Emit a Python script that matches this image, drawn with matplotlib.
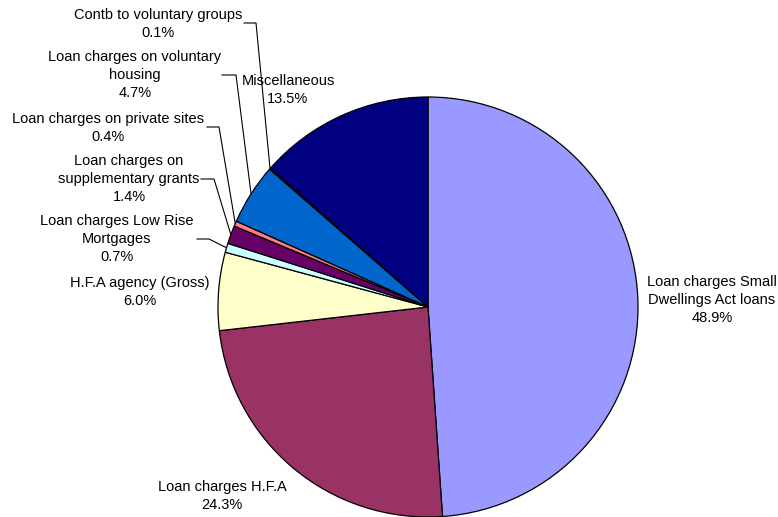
import numpy as np
import matplotlib
matplotlib.use("Agg")
import matplotlib.pyplot as plt

plt.rcParams["font.family"] = ["Liberation Sans", "DejaVu Sans"]

# Housing expenditure breakdown (per cent of total)
categories = [
    "Loan charges Small\nDwellings Act loans",
    "Loan charges H.F.A",
    "H.F.A agency (Gross)",
    "Loan charges Low Rise\nMortgages",
    "Loan charges on\nsupplementary grants",
    "Loan charges on private sites",
    "Loan charges on voluntary\nhousing",
    "Contb to voluntary groups",
    "Miscellaneous",
]
shares = [48.9, 24.3, 6.0, 0.7, 1.4, 0.4, 4.7, 0.1, 13.5]
colors = ["#9999FF", "#993366", "#FFFFCC", "#CCFFFF", "#660066",
          "#FF8080", "#0066CC", "#CCCCFF", "#000080"]

# label text centre (pixels from top-left) and optional leader start/elbow
label_pos = [(712, 300), (222, 496), (140, 292), (117, 239), (129, 179),
             (108, 128), (135, 75), (158, 24), (288, 90)]
leaders = {
    3: [(197, 239), (209, 239)],
    4: [(201, 179), (214, 179)],
    5: [(207, 127), (219, 127)],
    6: [(222, 75), (236, 75)],
    7: [(244, 23), (256, 23)],
}

W, H = 778, 517
cx, cy, r = 428, 307, 210

fig = plt.figure(figsize=(W / 100, H / 100), dpi=100)
ax = fig.add_axes([0, 0, 1, 1])
ax.set_xlim(0, W)
ax.set_ylim(0, H)
ax.set_aspect("equal")
ax.axis("off")

wedges, _ = ax.pie(
    shares,
    colors=colors,
    startangle=90,
    counterclock=False,
    radius=r,
    center=(cx, H - cy),
    wedgeprops=dict(edgecolor="black", linewidth=0.9),
)
ax.set_xlim(0, W)
ax.set_ylim(0, H)

for i, (name, val) in enumerate(zip(categories, shares)):
    x, y = label_pos[i]
    ax.text(x, H - y, f"{name}\n{val:.1f}%", ha="center", va="center",
            fontsize=10.5, linespacing=1.4, color="black")
    if i in leaders:
        w = wedges[i]
        mid = np.deg2rad((w.theta1 + w.theta2) / 2)
        ex = cx + r * np.cos(mid)
        ey = (H - cy) + r * np.sin(mid)
        pts = [(px, H - py) for px, py in leaders[i]] + [(ex, ey)]
        xs, ys = zip(*pts)
        ax.plot(xs, ys, color="black", linewidth=0.8)

fig.savefig("out.png", dpi=100)
